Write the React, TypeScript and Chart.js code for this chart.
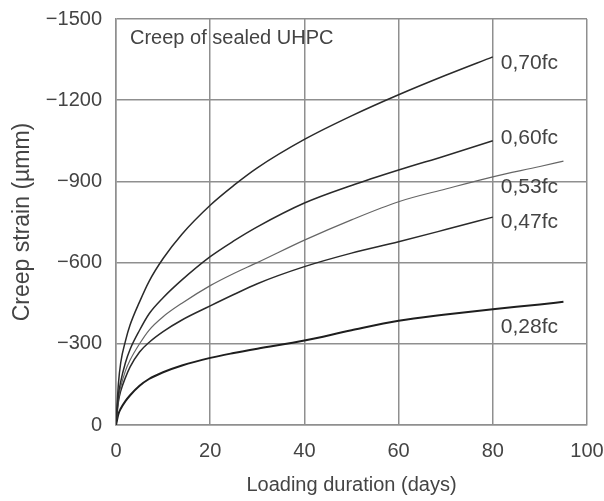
import React, { useEffect, useRef } from "react";
import { Chart, registerables } from "chart.js";

Chart.register(...registerables);

// Loading duration (days)
const daysTo80 = [0, 0.5, 1, 2, 3, 5, 7, 10, 14, 20, 25, 30, 40, 50, 60, 70, 80];
const daysTo95 = [0, 0.5, 1, 2, 3, 5, 7, 10, 14, 20, 25, 30, 40, 50, 60, 70, 80, 90, 95];

// Creep strain (µm/m)
const creep070 = [0, -150, -230, -310, -370, -455, -530, -615, -705, -812, -885, -950, -1055, -1142, -1220, -1292, -1360];
const creep060 = [0, -110, -160, -230, -280, -350, -410, -470, -536, -622, -680, -732, -820, -885, -942, -995, -1050];
const creep053 = [0, -95, -140, -200, -240, -300, -350, -400, -450, -515, -560, -600, -683, -758, -825, -872, -917, -955, -975];
const creep047 = [0, -85, -125, -175, -215, -270, -305, -345, -388, -440, -482, -522, -585, -635, -677, -722, -768];
const creep028 = [0, -40, -60, -88, -110, -145, -170, -195, -220, -248, -266, -282, -312, -350, -385, -408, -428, -445, -455];

const seriesLabels = ["0,70fc", "0,60fc", "0,53fc", "0,47fc", "0,28fc"];
// label anchors in data units (day, strain)
const labelDays = [81.7, 81.7, 81.7, 81.7, 81.7];
const labelStrains = [-1337, -1060, -879, -750, -362];

const xTicks = [0, 20, 40, 60, 80, 100];
const yTicks = [-1500, -1200, -900, -600, -300, 0];

const FONT = "'Liberation Sans', Arial, sans-serif";
const TEXT = "#444";
const GRID = "#8f8f8f";

const toPts = (xs: number[], ys: number[]) => ys.map((y, i) => ({ x: xs[i], y }));

const clearPad = (s: any) => {
  s.paddingTop = 0;
  s.paddingBottom = 0;
  s.paddingLeft = 0;
  s.paddingRight = 0;
};

export default function App() {
  const ref = useRef<HTMLCanvasElement | null>(null);

  useEffect(() => {
    document.body.style.margin = "0";
    const canvas = ref.current;
    if (!canvas) return;

    const annotations = {
      id: "annotations",
      afterDatasetsDraw(chart: any) {
        const { ctx, chartArea, scales } = chart;
        ctx.save();
        ctx.fillStyle = TEXT;
        ctx.font = `20px ${FONT}`;
        ctx.textBaseline = "middle";
        ctx.textAlign = "left";
        ctx.fillText("Creep of sealed UHPC", chartArea.left + 14, chartArea.top + 19);
        ctx.font = `21px ${FONT}`;
        seriesLabels.forEach((t, i) => {
          const px = scales.x.getPixelForValue(labelDays[i]);
          const py = scales.y.getPixelForValue(labelStrains[i]);
          ctx.fillText(t, px, py);
        });
        ctx.restore();
      },
    };

    const mk = (label: string, xs: number[], ys: number[], color: string, w: number) => ({
      label,
      data: toPts(xs, ys),
      borderColor: color,
      borderWidth: w,
      pointRadius: 0,
      fill: false,
      cubicInterpolationMode: "monotone" as const,
    });

    const chart = new Chart(canvas, {
      type: "line",
      data: {
        datasets: [
          mk(seriesLabels[0], daysTo80, creep070, "#2a2a2a", 1.5),
          mk(seriesLabels[1], daysTo80, creep060, "#2a2a2a", 1.5),
          mk(seriesLabels[2], daysTo95, creep053, "#666", 1.2),
          mk(seriesLabels[3], daysTo80, creep047, "#2a2a2a", 1.5),
          mk(seriesLabels[4], daysTo95, creep028, "#1e1e1e", 2),
        ],
      },
      options: {
        responsive: false,
        animation: false,
        layout: { padding: { top: 19, right: 17, left: 0, bottom: 0 } },
        plugins: { legend: { display: false }, tooltip: { enabled: false } },
        scales: {
          x: {
            type: "linear",
            min: 0,
            max: 100,
            afterBuildTicks: (s: any) => {
              s.ticks = xTicks.map((v) => ({ value: v }));
            },
            afterFit: (s: any) => {
              s.height = 76;
              clearPad(s);
            },
            grid: { color: GRID, lineWidth: 1.5, drawTicks: false },
            border: { color: GRID, width: 1.5 },
            ticks: { color: TEXT, font: { family: FONT, size: 20 }, padding: 14, maxRotation: 0 },
            title: {
              display: true,
              text: "Loading duration (days)",
              color: TEXT,
              font: { family: FONT, size: 20 },
              padding: { top: 4, bottom: 4 },
            },
          },
          y: {
            type: "linear",
            reverse: true,
            min: -1500,
            max: 0,
            afterBuildTicks: (s: any) => {
              s.ticks = yTicks.map((v) => ({ value: v }));
            },
            afterFit: (s: any) => {
              s.width = 116;
              clearPad(s);
            },
            grid: { color: GRID, lineWidth: 1.5, drawTicks: false },
            border: { color: GRID, width: 1.5 },
            ticks: {
              color: TEXT,
              font: { family: FONT, size: 20 },
              padding: 14,
              callback: (v: any) => (Number(v) === 0 ? "0" : `\u2212${Math.abs(Number(v))}`),
            },
            title: {
              display: true,
              text: "Creep strain (µmm)",
              color: TEXT,
              font: { family: FONT, size: 23 },
              padding: { top: 9, bottom: 0 },
            },
          },
        },
      },
      plugins: [annotations],
    });

    return () => chart.destroy();
  }, []);

  return (
    <div style={{ width: 604, height: 501 }}>
      <canvas ref={ref} width={604} height={501} />
    </div>
  );
}
